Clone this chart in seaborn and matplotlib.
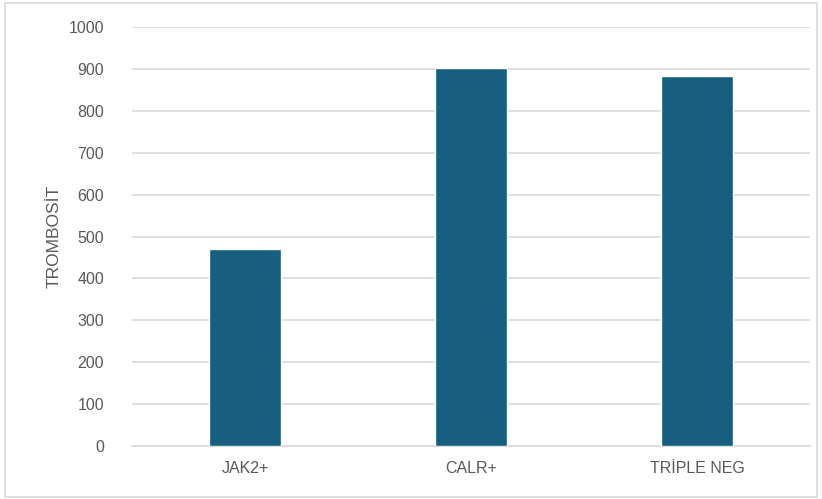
import matplotlib
matplotlib.use("Agg")
import matplotlib.pyplot as plt
from matplotlib.patches import Rectangle
import seaborn as sns
import pandas as pd

categories = ["JAK2+", "CALR+", "TRİPLE NEG"]
values = [469, 903, 882]
y_ticks = [0, 100, 200, 300, 400, 500, 600, 700, 800, 900, 1000]

sns.set_theme(style="white")
plt.rcParams["font.family"] = ["Liberation Sans", "DejaVu Sans"]

df = pd.DataFrame({"grup": categories, "trombosit": values})

fig = plt.figure(figsize=(8.22, 4.99), dpi=100)
ax = fig.add_axes([0.1606, 0.1062, 0.8248, 0.8397])

sns.barplot(data=df, x="grup", y="trombosit", color="#175E7F", saturation=1,
            width=0.315, ax=ax, zorder=3)

ax.set_ylim(0, 1000)
ax.set_yticks(y_ticks)
ax.set_xlim(-0.5, 2.5)
ax.yaxis.grid(True, color="#D9D9D9", linewidth=1.2, zorder=0)
ax.set_axisbelow(True)
for side in ["top", "right", "left"]:
    ax.spines[side].set_visible(False)
ax.spines["bottom"].set_color("#D9D9D9")
ax.spines["bottom"].set_linewidth(1.2)

ax.tick_params(axis="y", length=0, pad=20, labelsize=11.5, labelcolor="#595959")
ax.tick_params(axis="x", length=0, pad=11, labelsize=11.5, labelcolor="#595959")
ax.set_xlabel("")
ax.set_ylabel("TROMBOSİT", fontsize=12.5, color="#595959", labelpad=5)

# light frame around the whole chart area
fig.patches.append(Rectangle((0.006, 0.004), 0.988, 0.99, transform=fig.transFigure,
                             fill=False, edgecolor="#D9D9D9", linewidth=1.2))

fig.savefig("out.png", dpi=100)
